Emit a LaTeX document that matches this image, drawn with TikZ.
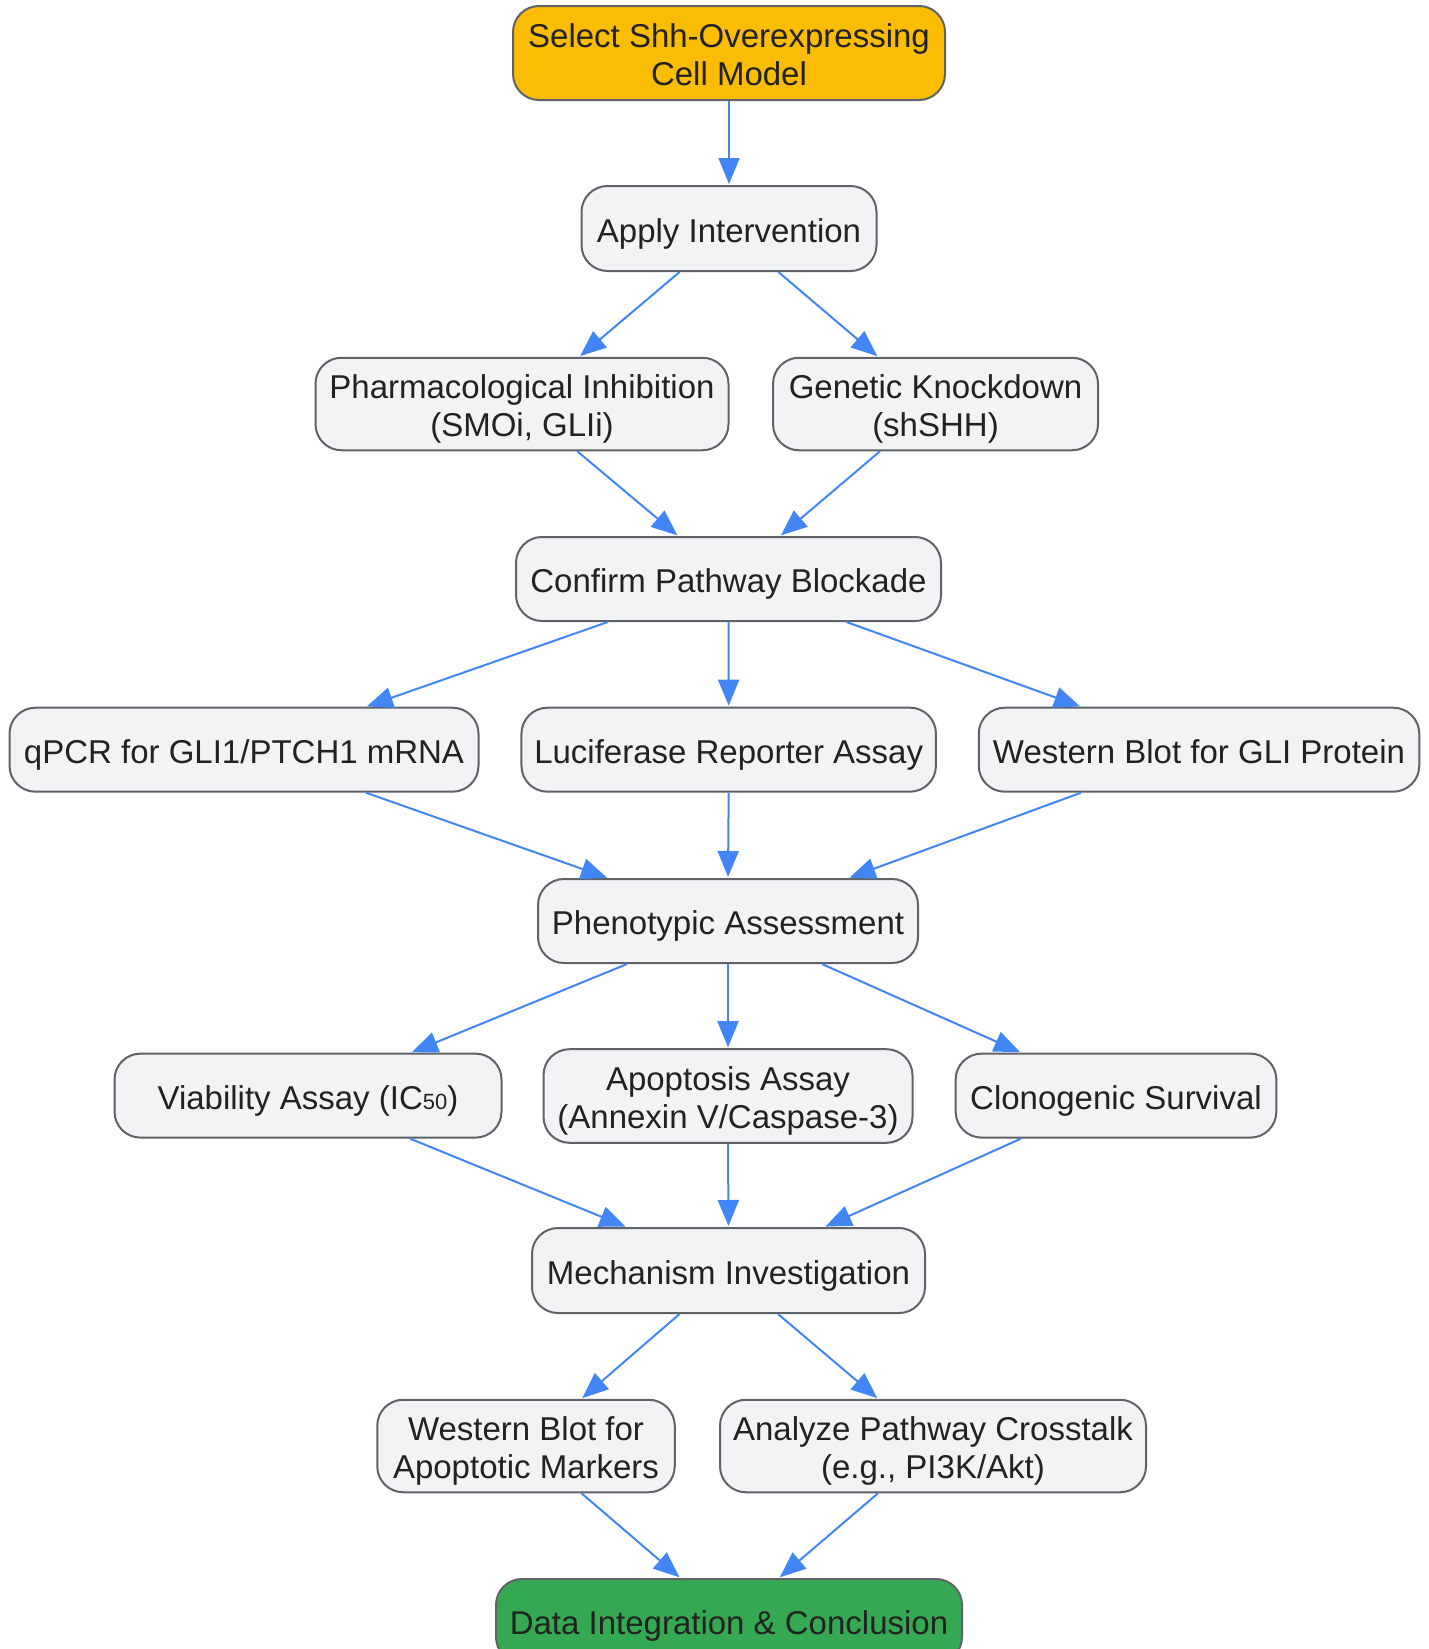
\documentclass[tikz,border=0pt]{standalone}
\usepackage{fontspec}
\setmainfont{Liberation Sans}
\usetikzlibrary{arrows.meta}
\definecolor{nodefill}{HTML}{F1F3F5}
\definecolor{nodedraw}{HTML}{5F6368}
\definecolor{edgecol}{HTML}{4285F4}
\definecolor{txtcol}{HTML}{222222}
\definecolor{startfill}{HTML}{FBBC04}
\definecolor{endfill}{HTML}{34A853}
\newcommand{\myone}[1]{\raisebox{0pt}[30pt][2.4pt]{#1}}
\newcommand{\mytwo}[1]{\raisebox{0pt}[68pt][2.2pt]{\begin{tabular}[b]{@{}c@{}}#1\end{tabular}}}
\tikzset{
  box/.style={draw=nodedraw, fill=nodefill, line width=2pt, rounded corners=26pt,
    inner sep=0pt, align=center, text=txtcol,
    font=\fontsize{33}{38}\selectfont},
  conn/.style={draw=edgecol, line width=2pt, -{Triangle[length=26pt,width=21pt]}, shorten >=1pt}
}
\begin{document}
\begin{tikzpicture}[x=1pt,y=-1pt]
\useasboundingbox (0,0) rectangle (1429,1649);
\node[box, fill=startfill, minimum width=432pt, minimum height=94pt] (sel) at (729,53) {\mytwo{Select Shh-Overexpressing\\Cell Model}};
\node[box, minimum width=295pt, minimum height=85pt] (app) at (729,228.5) {\myone{Apply Intervention}};
\node[box, minimum width=413pt, minimum height=92.5pt] (pha) at (522,404) {\mytwo{Pharmacological Inhibition\\(SMOi, GLIi)}};
\node[box, minimum width=325pt, minimum height=92.5pt] (gen) at (935.5,404) {\mytwo{Genetic Knockdown\\(shSHH)}};
\node[box, minimum width=425pt, minimum height=84pt] (con) at (728.5,579) {\myone{Confirm Pathway Blockade}};
\node[box, minimum width=469pt, minimum height=84pt] (qpc) at (244,749.7) {\myone{qPCR for GLI1/PTCH1 mRNA}};
\node[box, minimum width=414.5pt, minimum height=84pt] (luc) at (728.7,749.7) {\myone{Luciferase Reporter Assay}};
\node[box, minimum width=440.5pt, minimum height=84pt] (wgl) at (1199,749.7) {\myone{Western Blot for GLI Protein}};
\node[box, minimum width=380pt, minimum height=84pt] (phe) at (728,921) {\myone{Phenotypic Assessment}};
\node[box, minimum width=387pt, minimum height=84pt] (via) at (308,1095.6) {\myone{Viability Assay (IC{\fontsize{22}{22}\selectfont 50})}};
\node[box, minimum width=369pt, minimum height=93.6pt] (apo) at (728,1096) {\mytwo{Apoptosis Assay\\(Annexin V/Caspase-3)}};
\node[box, minimum width=320.7pt, minimum height=84pt] (clo) at (1116,1095.6) {\myone{Clonogenic Survival}};
\node[box, minimum width=393pt, minimum height=85pt] (mec) at (728.5,1270.5) {\myone{Mechanism Investigation}};
\node[box, minimum width=297.5pt, minimum height=92.5pt] (wba) at (526,1446) {\mytwo{Western Blot for\\Apoptotic Markers}};
\node[box, minimum width=426pt, minimum height=92.5pt] (ana) at (933,1446) {\mytwo{Analyze Pathway Crosstalk\\(e.g., PI3K/Akt)}};
\node[box, fill=endfill, minimum width=466pt, minimum height=84pt] (dat) at (729,1621) {\myone{Data Integration \& Conclusion}};

\draw[conn] (sel.south) -- (app.north);
\draw[conn] ([xshift=-49.4pt]app.south) -- ([xshift=57.4pt]pha.north);
\draw[conn] ([xshift=49.4pt]app.south) -- ([xshift=-57.5pt]gen.north);
\draw[conn] ([xshift=55.3pt]pha.south) -- ([xshift=-50.3pt]con.north);
\draw[conn] ([xshift=-55.5pt]gen.south) -- ([xshift=51.7pt]con.north);
\draw[conn] ([xshift=-120.7pt]con.south) -- ([xshift=122pt]qpc.north);
\draw[conn] (con.south) -- (luc.north);
\draw[conn] ([xshift=118pt]con.south) -- ([xshift=-118pt]wgl.north);
\draw[conn] ([xshift=122pt]qpc.south) -- ([xshift=-120pt]phe.north);
\draw[conn] (luc.south) -- (phe.north);
\draw[conn] ([xshift=-118pt]wgl.south) -- ([xshift=120.6pt]phe.north);
\draw[conn] ([xshift=-101pt]phe.south) -- ([xshift=103pt]via.north);
\draw[conn] (phe.south) -- (apo.north);
\draw[conn] ([xshift=94pt]phe.south) -- ([xshift=-95pt]clo.north);
\draw[conn] ([xshift=102pt]via.south) -- ([xshift=-102pt]mec.north);
\draw[conn] (apo.south) -- (mec.north);
\draw[conn] ([xshift=-95pt]clo.south) -- ([xshift=96pt]mec.north);
\draw[conn] ([xshift=-49pt]mec.south) -- ([xshift=55.5pt]wba.north);
\draw[conn] ([xshift=49.5pt]mec.south) -- ([xshift=-55pt]ana.north);
\draw[conn] ([xshift=55.5pt]wba.south) -- ([xshift=-48.7pt]dat.north);
\draw[conn] ([xshift=-55pt]ana.south) -- ([xshift=50pt]dat.north);
\end{tikzpicture}
\end{document}
